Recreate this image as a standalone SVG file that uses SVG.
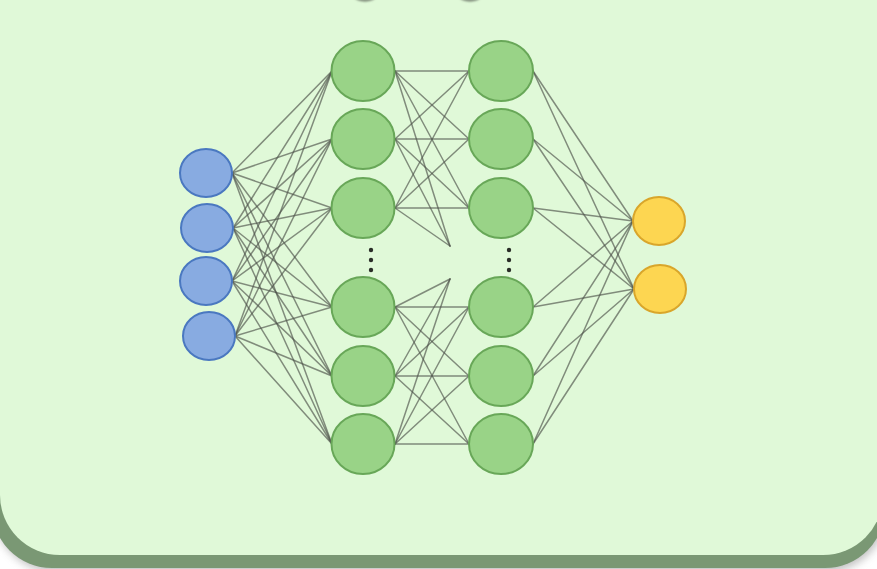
<svg xmlns="http://www.w3.org/2000/svg" width="877" height="569" viewBox="0 0 877 569">
  <defs>
    <filter id="soft" x="-10%" y="-10%" width="120%" height="130%">
      <feGaussianBlur stdDeviation="4"/>
    </filter>
    <filter id="blur1" x="-50%" y="-50%" width="200%" height="200%">
      <feGaussianBlur stdDeviation="1"/>
    </filter>
    <radialGradient id="capShade" cx="50%" cy="20%" r="65%">
      <stop offset="0" stop-color="#dfeeda"/>
      <stop offset="0.75" stop-color="#aab8a5"/>
      <stop offset="1" stop-color="#6f7a6b"/>
    </radialGradient>
  </defs>
  <style>
    .edge { stroke: #4d5249; stroke-width: 1.5; stroke-opacity: 0.65; fill: none; stroke-linecap: round; }
    .in { fill: #88abe1; stroke: #4a78c0; stroke-width: 2; }
    .hid { fill: #99d387; stroke: #68a758; stroke-width: 2; }
    .out { fill: #fdd651; stroke: #d9a62b; stroke-width: 2; }
    .dot { fill: #2a2e28; }
  </style>

  <!-- page -->
  <rect x="0" y="0" width="877" height="569" fill="#ffffff"/>

  <!-- card with its drop shadow -->
  <rect x="-6" y="-84" width="893" height="656" rx="62" fill="#8c8c8c" opacity="0.55" filter="url(#soft)"/>
  <rect x="-8" y="-87" width="893" height="655" rx="60" fill="#7a9874"/>
  <rect x="0" y="-100" width="883" height="655" rx="60" fill="#e0f9d8"/>

  <!-- partly visible shapes at the top edge -->
  <g filter="url(#blur1)">
    <ellipse cx="365" cy="-3.5" rx="10.5" ry="5" fill="url(#capShade)"/>
    <ellipse cx="470" cy="-3.5" rx="10.5" ry="5" fill="url(#capShade)"/>
  </g>

  <!-- connectors -->
  <g id="connectors">
    <!-- input layer to first hidden layer -->
    <line class="edge" x1="232" y1="173" x2="332" y2="71"/>
    <line class="edge" x1="232" y1="173" x2="332" y2="139"/>
    <line class="edge" x1="232" y1="173" x2="332" y2="208"/>
    <line class="edge" x1="232" y1="173" x2="332" y2="307"/>
    <line class="edge" x1="232" y1="173" x2="332" y2="376"/>
    <line class="edge" x1="232" y1="173" x2="332" y2="444"/>
    <line class="edge" x1="233" y1="228" x2="332" y2="71"/>
    <line class="edge" x1="233" y1="228" x2="332" y2="139"/>
    <line class="edge" x1="233" y1="228" x2="332" y2="208"/>
    <line class="edge" x1="233" y1="228" x2="332" y2="307"/>
    <line class="edge" x1="233" y1="228" x2="332" y2="376"/>
    <line class="edge" x1="233" y1="228" x2="332" y2="444"/>
    <line class="edge" x1="232" y1="281" x2="332" y2="71"/>
    <line class="edge" x1="232" y1="281" x2="332" y2="139"/>
    <line class="edge" x1="232" y1="281" x2="332" y2="208"/>
    <line class="edge" x1="232" y1="281" x2="332" y2="307"/>
    <line class="edge" x1="232" y1="281" x2="332" y2="376"/>
    <line class="edge" x1="232" y1="281" x2="332" y2="444"/>
    <line class="edge" x1="235" y1="336" x2="332" y2="71"/>
    <line class="edge" x1="235" y1="336" x2="332" y2="139"/>
    <line class="edge" x1="235" y1="336" x2="332" y2="208"/>
    <line class="edge" x1="235" y1="336" x2="332" y2="307"/>
    <line class="edge" x1="235" y1="336" x2="332" y2="376"/>
    <line class="edge" x1="235" y1="336" x2="332" y2="444"/>

    <!-- first hidden to second hidden, upper block -->
    <line class="edge" x1="395" y1="71" x2="469" y2="71"/>
    <line class="edge" x1="395" y1="71" x2="469" y2="139"/>
    <line class="edge" x1="395" y1="71" x2="469" y2="208"/>
    <line class="edge" x1="395" y1="139" x2="469" y2="71"/>
    <line class="edge" x1="395" y1="139" x2="469" y2="139"/>
    <line class="edge" x1="395" y1="139" x2="469" y2="208"/>
    <line class="edge" x1="395" y1="208" x2="469" y2="71"/>
    <line class="edge" x1="395" y1="208" x2="469" y2="139"/>
    <line class="edge" x1="395" y1="208" x2="469" y2="208"/>
    <line class="edge" x1="395" y1="71" x2="450" y2="246"/>
    <line class="edge" x1="395" y1="139" x2="450" y2="246"/>
    <line class="edge" x1="395" y1="208" x2="450" y2="246"/>

    <!-- first hidden to second hidden, lower block -->
    <line class="edge" x1="395" y1="307" x2="469" y2="307"/>
    <line class="edge" x1="395" y1="307" x2="469" y2="376"/>
    <line class="edge" x1="395" y1="307" x2="469" y2="444"/>
    <line class="edge" x1="395" y1="376" x2="469" y2="307"/>
    <line class="edge" x1="395" y1="376" x2="469" y2="376"/>
    <line class="edge" x1="395" y1="376" x2="469" y2="444"/>
    <line class="edge" x1="395" y1="444" x2="469" y2="307"/>
    <line class="edge" x1="395" y1="444" x2="469" y2="376"/>
    <line class="edge" x1="395" y1="444" x2="469" y2="444"/>
    <line class="edge" x1="395" y1="307" x2="450" y2="279"/>
    <line class="edge" x1="395" y1="376" x2="450" y2="279"/>
    <line class="edge" x1="395" y1="444" x2="450" y2="279"/>

    <!-- second hidden layer to output layer -->
    <line class="edge" x1="533" y1="71" x2="633" y2="221"/>
    <line class="edge" x1="533" y1="71" x2="634" y2="289"/>
    <line class="edge" x1="533" y1="139" x2="633" y2="221"/>
    <line class="edge" x1="533" y1="139" x2="634" y2="289"/>
    <line class="edge" x1="533" y1="208" x2="633" y2="221"/>
    <line class="edge" x1="533" y1="208" x2="634" y2="289"/>
    <line class="edge" x1="533" y1="307" x2="633" y2="221"/>
    <line class="edge" x1="533" y1="307" x2="634" y2="289"/>
    <line class="edge" x1="533" y1="376" x2="633" y2="221"/>
    <line class="edge" x1="533" y1="376" x2="634" y2="289"/>
    <line class="edge" x1="533" y1="444" x2="633" y2="221"/>
    <line class="edge" x1="533" y1="444" x2="634" y2="289"/>
  </g>

  <!-- input layer -->
  <g id="in1"><ellipse class="in" cx="206" cy="173" rx="26" ry="24"/></g>
  <g id="in2"><ellipse class="in" cx="207" cy="228" rx="26" ry="24"/></g>
  <g id="in3"><ellipse class="in" cx="206" cy="281" rx="26" ry="24"/></g>
  <g id="in4"><ellipse class="in" cx="209" cy="336" rx="26" ry="24"/></g>

  <!-- first hidden layer -->
  <g id="h1a"><ellipse class="hid" cx="363" cy="71" rx="31.5" ry="30"/></g>
  <g id="h1b"><ellipse class="hid" cx="363" cy="139" rx="31.5" ry="30"/></g>
  <g id="h1c"><ellipse class="hid" cx="363" cy="208" rx="31.5" ry="30"/></g>
  <g id="h1-ellipsis">
    <circle class="dot" cx="371" cy="250" r="2.2"/>
    <circle class="dot" cx="371" cy="260" r="2.2"/>
    <circle class="dot" cx="371" cy="270" r="2.2"/>
  </g>
  <g id="h1d"><ellipse class="hid" cx="363" cy="307" rx="31.5" ry="30"/></g>
  <g id="h1e"><ellipse class="hid" cx="363" cy="376" rx="31.5" ry="30"/></g>
  <g id="h1f"><ellipse class="hid" cx="363" cy="444" rx="31.5" ry="30"/></g>

  <!-- second hidden layer -->
  <g id="h2a"><ellipse class="hid" cx="501" cy="71" rx="32" ry="30"/></g>
  <g id="h2b"><ellipse class="hid" cx="501" cy="139" rx="32" ry="30"/></g>
  <g id="h2c"><ellipse class="hid" cx="501" cy="208" rx="32" ry="30"/></g>
  <g id="h2-ellipsis">
    <circle class="dot" cx="509" cy="250" r="2.2"/>
    <circle class="dot" cx="509" cy="260" r="2.2"/>
    <circle class="dot" cx="509" cy="270" r="2.2"/>
  </g>
  <g id="h2d"><ellipse class="hid" cx="501" cy="307" rx="32" ry="30"/></g>
  <g id="h2e"><ellipse class="hid" cx="501" cy="376" rx="32" ry="30"/></g>
  <g id="h2f"><ellipse class="hid" cx="501" cy="444" rx="32" ry="30"/></g>

  <!-- output layer -->
  <g id="out1"><ellipse class="out" cx="659" cy="221" rx="26" ry="24"/></g>
  <g id="out2"><ellipse class="out" cx="660" cy="289" rx="26" ry="24"/></g>
</svg>
